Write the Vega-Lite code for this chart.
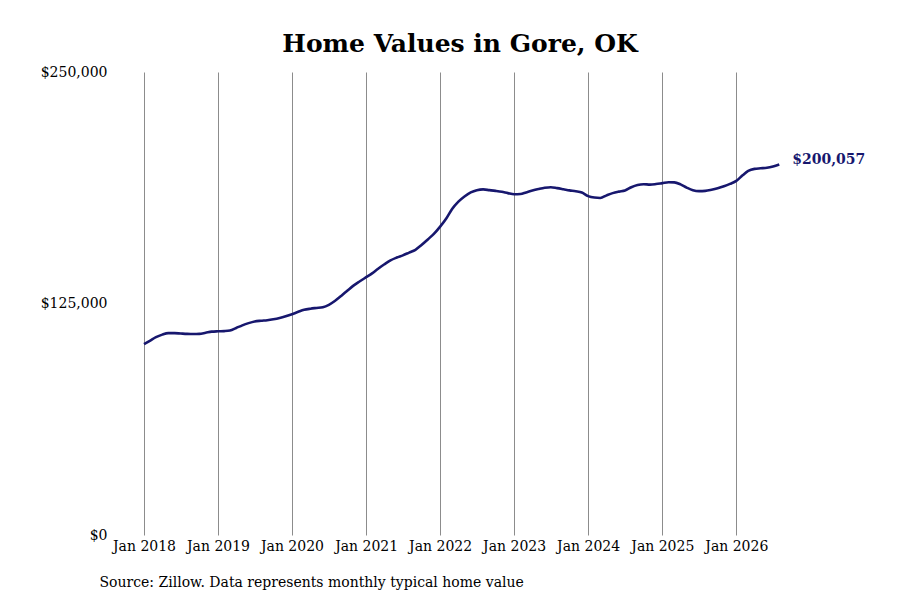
{
  "$schema": "https://vega.github.io/schema/vega-lite/v6.json",
  "width": 660,
  "height": 463,
  "autosize": {"type": "none"},
  "padding": {"left": 144, "top": 72, "right": 96, "bottom": 65},
  "background": "white",
  "title": {
    "text": "Home Values in Gore, OK",
    "anchor": "middle",
    "frame": "group",
    "offset": 8,
    "dx": -14,
    "font": "DejaVu Serif",
    "fontSize": 25,
    "fontWeight": "bold",
    "color": "#000000"
  },
  "config": {
    "view": {"stroke": null},
    "font": "DejaVu Serif"
  },
  "data": {
    "values": [
      {"date": "2018-01-01", "value": 103000},
      {"date": "2018-02-01", "value": 105000},
      {"date": "2018-03-01", "value": 106800},
      {"date": "2018-04-01", "value": 108200},
      {"date": "2018-05-01", "value": 109000},
      {"date": "2018-06-01", "value": 109000},
      {"date": "2018-07-01", "value": 108800},
      {"date": "2018-08-01", "value": 108600},
      {"date": "2018-09-01", "value": 108500},
      {"date": "2018-10-01", "value": 108600},
      {"date": "2018-11-01", "value": 109200},
      {"date": "2018-12-01", "value": 109800},
      {"date": "2019-01-01", "value": 110000},
      {"date": "2019-02-01", "value": 110100},
      {"date": "2019-03-01", "value": 110400},
      {"date": "2019-04-01", "value": 111800},
      {"date": "2019-05-01", "value": 113200},
      {"date": "2019-06-01", "value": 114400},
      {"date": "2019-07-01", "value": 115300},
      {"date": "2019-08-01", "value": 115700},
      {"date": "2019-09-01", "value": 116000},
      {"date": "2019-10-01", "value": 116500},
      {"date": "2019-11-01", "value": 117200},
      {"date": "2019-12-01", "value": 118100},
      {"date": "2020-01-01", "value": 119200},
      {"date": "2020-02-01", "value": 120500},
      {"date": "2020-03-01", "value": 121600},
      {"date": "2020-04-01", "value": 122200},
      {"date": "2020-05-01", "value": 122600},
      {"date": "2020-06-01", "value": 123000},
      {"date": "2020-07-01", "value": 124300},
      {"date": "2020-08-01", "value": 126500},
      {"date": "2020-09-01", "value": 129200},
      {"date": "2020-10-01", "value": 132000},
      {"date": "2020-11-01", "value": 134800},
      {"date": "2020-12-01", "value": 137000},
      {"date": "2021-01-01", "value": 139200},
      {"date": "2021-02-01", "value": 141400},
      {"date": "2021-03-01", "value": 143800},
      {"date": "2021-04-01", "value": 146200},
      {"date": "2021-05-01", "value": 148300},
      {"date": "2021-06-01", "value": 149800},
      {"date": "2021-07-01", "value": 151000},
      {"date": "2021-08-01", "value": 152500},
      {"date": "2021-09-01", "value": 154000},
      {"date": "2021-10-01", "value": 156600},
      {"date": "2021-11-01", "value": 159600},
      {"date": "2021-12-01", "value": 162600},
      {"date": "2022-01-01", "value": 166500},
      {"date": "2022-02-01", "value": 171000},
      {"date": "2022-03-01", "value": 176000},
      {"date": "2022-04-01", "value": 180000},
      {"date": "2022-05-01", "value": 182800},
      {"date": "2022-06-01", "value": 185000},
      {"date": "2022-07-01", "value": 186200},
      {"date": "2022-08-01", "value": 186600},
      {"date": "2022-09-01", "value": 186200},
      {"date": "2022-10-01", "value": 185800},
      {"date": "2022-11-01", "value": 185300},
      {"date": "2022-12-01", "value": 184600},
      {"date": "2023-01-01", "value": 184000},
      {"date": "2023-02-01", "value": 184100},
      {"date": "2023-03-01", "value": 185000},
      {"date": "2023-04-01", "value": 186000},
      {"date": "2023-05-01", "value": 186800},
      {"date": "2023-06-01", "value": 187500},
      {"date": "2023-07-01", "value": 187800},
      {"date": "2023-08-01", "value": 187300},
      {"date": "2023-09-01", "value": 186700},
      {"date": "2023-10-01", "value": 186100},
      {"date": "2023-11-01", "value": 185600},
      {"date": "2023-12-01", "value": 184900},
      {"date": "2024-01-01", "value": 183000},
      {"date": "2024-02-01", "value": 182200},
      {"date": "2024-03-01", "value": 182000},
      {"date": "2024-04-01", "value": 183400},
      {"date": "2024-05-01", "value": 184600},
      {"date": "2024-06-01", "value": 185400},
      {"date": "2024-07-01", "value": 186000},
      {"date": "2024-08-01", "value": 187800},
      {"date": "2024-09-01", "value": 189000},
      {"date": "2024-10-01", "value": 189400},
      {"date": "2024-11-01", "value": 189200},
      {"date": "2024-12-01", "value": 189500},
      {"date": "2025-01-01", "value": 190000},
      {"date": "2025-02-01", "value": 190500},
      {"date": "2025-03-01", "value": 190400},
      {"date": "2025-04-01", "value": 189300},
      {"date": "2025-05-01", "value": 187600},
      {"date": "2025-06-01", "value": 186200},
      {"date": "2025-07-01", "value": 185700},
      {"date": "2025-08-01", "value": 185800},
      {"date": "2025-09-01", "value": 186400},
      {"date": "2025-10-01", "value": 187200},
      {"date": "2025-11-01", "value": 188300},
      {"date": "2025-12-01", "value": 189600},
      {"date": "2026-01-01", "value": 191200},
      {"date": "2026-02-01", "value": 194200},
      {"date": "2026-03-01", "value": 196600},
      {"date": "2026-04-01", "value": 197700},
      {"date": "2026-05-01", "value": 198000},
      {"date": "2026-06-01", "value": 198300},
      {"date": "2026-07-01", "value": 199000},
      {"date": "2026-08-01", "value": 200057}
    ]
  },
  "encoding": {
    "x": {
      "field": "date",
      "type": "temporal",
      "scale": {
        "type": "utc",
        "domain": [
          {"year": 2018, "month": 1, "date": 1, "utc": true},
          {"year": 2026, "month": 12, "date": 1, "utc": true}
        ]
      },
      "axis": {
        "values": [
          {"year": 2018, "month": 1, "date": 1, "utc": true},
          {"year": 2019, "month": 1, "date": 1, "utc": true},
          {"year": 2020, "month": 1, "date": 1, "utc": true},
          {"year": 2021, "month": 1, "date": 1, "utc": true},
          {"year": 2022, "month": 1, "date": 1, "utc": true},
          {"year": 2023, "month": 1, "date": 1, "utc": true},
          {"year": 2024, "month": 1, "date": 1, "utc": true},
          {"year": 2025, "month": 1, "date": 1, "utc": true},
          {"year": 2026, "month": 1, "date": 1, "utc": true}
        ],
        "labelExpr": "utcFormat(datum.value, '%b %Y')",
        "labelFlush": false,
        "labelOverlap": false,
        "grid": true,
        "gridColor": "#8c8c8c",
        "gridWidth": 1,
        "gridOpacity": 1,
        "domain": false,
        "ticks": false,
        "labelPadding": 4,
        "labelFont": "DejaVu Serif",
        "labelFontSize": 14,
        "labelColor": "#000000",
        "title": "Source: Zillow. Data represents monthly typical home value",
        "titleFont": "DejaVu Serif",
        "titleFontSize": 14,
        "titleFontWeight": "normal",
        "titleColor": "#000000",
        "titleAnchor": "start",
        "titleAlign": "left",
        "titleX": -45,
        "titleY": 51,
        "titleBaseline": "alphabetic"
      }
    },
    "y": {
      "field": "value",
      "type": "quantitative",
      "scale": {"domain": [0, 250000], "nice": false},
      "axis": {
        "values": [0, 125000, 250000],
        "format": "$,.0f",
        "grid": false,
        "domain": false,
        "ticks": false,
        "labelPadding": 37,
        "labelFont": "DejaVu Serif",
        "labelFontSize": 14,
        "labelColor": "#000000",
        "title": null
      }
    }
  },
  "layer": [
    {
      "mark": {"type": "line", "color": "#17176e", "strokeWidth": 2.6, "interpolate": "monotone"}
    },
    {
      "transform": [{"filter": "datum.value === 200057"}],
      "mark": {
        "type": "text",
        "align": "left",
        "baseline": "middle",
        "dx": 13,
        "dy": -4,
        "font": "DejaVu Serif",
        "fontSize": 14,
        "fontWeight": "bold",
        "color": "#17176e"
      },
      "encoding": {
        "text": {"field": "value", "type": "quantitative", "format": "$,.0f"}
      }
    }
  ]
}
